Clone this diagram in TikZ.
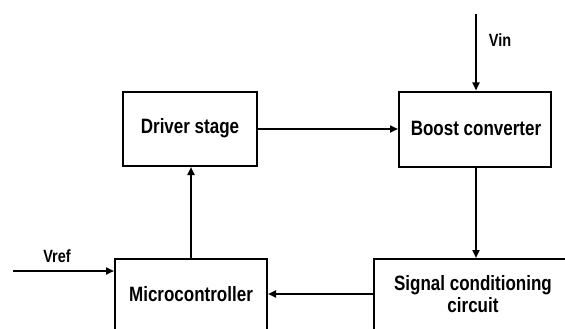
\documentclass[tikz,border=0pt]{standalone}
\usepackage{fontspec}
\setmainfont{Liberation Sans}
\usetikzlibrary{arrows.meta}
% tall lettering used for all labels
\newcommand\tallstr[1]{\scalebox{1}[1.22]{#1}}
\tikzset{
  block/.style={draw=black, line width=2pt, fill=white, inner sep=0pt},
  btext/.style={font=\fontsize{17}{22}\selectfont\bfseries, align=center, inner sep=0pt},
  sig/.style={font=\fontsize{14.5}{17}\selectfont\bfseries, inner sep=0pt},
  link/.style={line width=2pt, -{Triangle[length=8pt,width=7pt]}}
}
\begin{document}
\begin{tikzpicture}[x=1pt,y=-1pt]
  \useasboundingbox (0,0) rectangle (565,329);
  \clip (0,0) rectangle (565,329);
  \fill[white] (0,0) rectangle (565,329);

  % blocks
  \node[block, minimum width=134pt, minimum height=74pt] (drv) at (190,129) {};
  \node[btext] at (190,128) {\tallstr{Driver stage}};
  \node[block, minimum width=152pt, minimum height=75pt] (bst) at (475,129) {};
  \node[btext] at (476,128) {\tallstr{Boost converter}};
  \node[block, minimum width=152pt, minimum height=90pt, anchor=north] (mc) at (191,258) {};
  \node[btext] (mclabel) at (191,294) {\tallstr{Microcontroller}};
  \node[block, minimum width=198pt, minimum height=90pt, anchor=north] (sg) at (473,258) {};
  \node[btext] at (473,294) {\tallstr{Signal conditioning}\\\tallstr{circuit}};

  % external inputs
  \coordinate (vin) at (476,14);
  \coordinate (vref) at (13,271);
  \node[sig] at (500,40) {\tallstr{Vin}};
  \node[sig] at (57,256) {\tallstr{Vref}};

  % connections
  \draw[link] (drv.east) -- (bst.west);
  \draw[link] (vin) -- (vin |- bst.north);
  \draw[link] (vin |- bst.south) -- (vin |- sg.north);
  \draw[link] (sg.west |- mclabel) -- (mc.east |- mclabel);
  \draw[link] (mc.north) -- (mc.north |- drv.south);
  \draw[link] (vref) -- (mc.west |- vref);
\end{tikzpicture}
\end{document}
